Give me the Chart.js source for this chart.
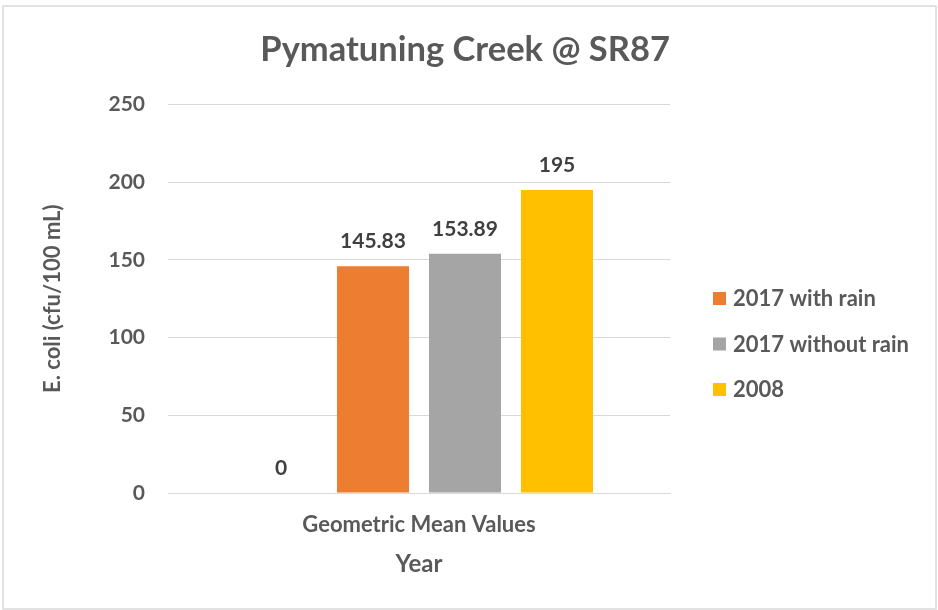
<!DOCTYPE html>
<html>
<head>
<meta charset="utf-8">
<script src="https://cdn.jsdelivr.net/npm/chart.js@4/dist/chart.umd.min.js"></script>
<style>
  body { margin: 0; background: #fff; }
  canvas { display: block; }
</style>
</head>
<body>
<canvas id="chart" width="938" height="610"></canvas>
<script>
// dados
const categories = ['Geometric Mean Values'];
const seriesNames = ['', '2017 with rain', '2017 without rain', '2008'];
const seriesValues = [0, 145.83, 153.89, 195];
const seriesColors = ['#4472C4', '#ED7D31', '#A5A5A5', '#FFC000'];
const yMin = 0;
const yMax = 250;
const yStep = 50;

const FONT = 'Lato, Calibri, Carlito, sans-serif';
const TEXT = '#595959';

// moldura cinza em volta do grafico
const borderPlugin = {
  id: 'border',
  beforeDraw(chart) {
    const ctx = chart.ctx;
    ctx.save();
    ctx.fillStyle = '#fff';
    ctx.fillRect(0, 0, chart.width, chart.height);
    ctx.strokeStyle = '#d9d9d9';
    ctx.lineWidth = 1.5;
    ctx.strokeRect(3, 6, 933, 603);
    ctx.restore();
  }
};

// rotulos de valor acima das barras
const valueLabels = {
  id: 'valueLabels',
  afterDatasetsDraw(chart) {
    const ctx = chart.ctx;
    ctx.save();
    ctx.font = 'bold 21px ' + FONT;
    ctx.fillStyle = '#404040';
    ctx.textAlign = 'center';
    ctx.textBaseline = 'middle';
    chart.data.datasets.forEach((ds, i) => {
      chart.getDatasetMeta(i).data.forEach((bar, j) => {
        ctx.fillText(String(ds.data[j]), bar.x, bar.y - 25);
      });
    });
    ctx.restore();
  }
};

// legenda a direita (sem a serie vazia)
const sideLegend = {
  id: 'sideLegend',
  afterDraw(chart) {
    const ctx = chart.ctx;
    ctx.save();
    ctx.font = 'bold 22px ' + FONT;
    ctx.textBaseline = 'middle';
    let y = 299;
    chart.data.datasets.forEach(ds => {
      if (!ds.label) return;
      ctx.fillStyle = ds.backgroundColor;
      ctx.fillRect(713, y - 7, 13, 13);
      ctx.fillStyle = TEXT;
      ctx.fillText(ds.label, 733, y);
      y += 45.5;
    });
    ctx.restore();
  }
};

const ctx = document.getElementById('chart').getContext('2d');
new Chart(ctx, {
  type: 'bar',
  data: {
    labels: categories,
    datasets: seriesNames.map((name, i) => ({
      label: name,
      data: [seriesValues[i]],
      backgroundColor: seriesColors[i],
      categoryPercentage: 0.733,
      barPercentage: 0.783
    }))
  },
  options: {
    responsive: false,
    animation: false,
    layout: { padding: { left: 0, right: 268, top: 0, bottom: 0 } },
    plugins: {
      legend: { display: false },
      tooltip: { enabled: false },
      title: {
        display: true,
        text: 'Pymatuning Creek @ SR87',
        align: 'end',
        color: TEXT,
        font: { family: FONT, size: 34.5, weight: 'bold' },
        padding: { top: 29, bottom: 34 }
      }
    },
    scales: {
      x: {
        grid: { display: false, drawTicks: false },
        border: { display: true, color: '#d9d9d9', width: 1 },
        ticks: { color: TEXT, padding: 19, font: { family: FONT, size: 22, weight: 'bold' } },
        title: {
          display: true,
          text: 'Year',
          color: TEXT,
          font: { family: FONT, size: 24, weight: 'bold' },
          padding: { top: 0, bottom: 31 }
        },
        afterFit(scale) { scale.height = 117; }
      },
      y: {
        min: yMin,
        max: yMax,
        grid: { color: '#d9d9d9', lineWidth: 1, drawTicks: false },
        border: { display: false },
        ticks: {
          stepSize: yStep,
          color: TEXT,
          padding: 23,
          font: { family: FONT, size: 21, weight: 'bold' }
        },
        title: {
          display: true,
          text: 'E. coli (cfu/100 mL)',
          color: TEXT,
          font: { family: FONT, size: 22, weight: 'bold' },
          padding: { top: 40, bottom: 0 }
        },
        afterFit(scale) { scale.width = 168; }
      }
    }
  },
  plugins: [borderPlugin, valueLabels, sideLegend]
});
</script>
</body>
</html>
